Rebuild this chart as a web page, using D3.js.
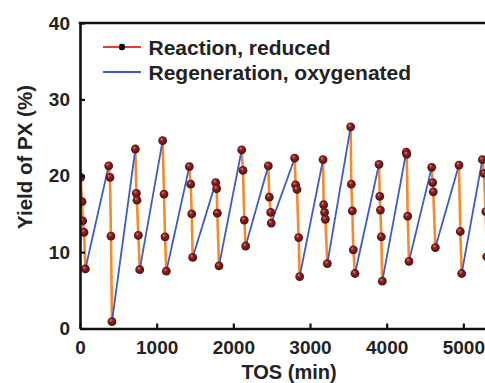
<!DOCTYPE html>
<html>
<head>
<meta charset="utf-8">
<script src="https://cdn.jsdelivr.net/npm/d3@7/dist/d3.min.js"></script>
<style>
  body { margin: 0; background: #fff; }
  svg { display: block; font-family: "Liberation Sans", Arial, sans-serif; }
</style>
</head>
<body>
<div id="chart"></div>
<script>
// reaction cycles: TOS (min) and PX yield (%) per cycle
const reactionTOS = [
  [9, 26, 35, 52, 70],
  [374, 391, 404, 417],
  [722, 735, 743, 761, 779],
  [1078, 1096, 1109, 1126],
  [1426, 1444, 1457, 1470],
  [1770, 1783, 1791, 1813],
  [2109, 2126, 2143, 2161],
  [2456, 2469, 2487, 2495],
  [2800, 2812, 2830, 2852, 2865],
  [3170, 3178, 3190, 3200, 3226],
  [3530, 3539, 3552, 3565, 3587],
  [3900, 3910, 3918, 3930, 3943],
  [4255, 4262, 4274, 4291],
  [4587, 4600, 4608, 4635],
  [4943, 4960, 4978],
  [5248, 5269, 5292, 5305]
];
const reactionYield = [
  [19.8, 16.6, 14.1, 12.6, 7.8],
  [21.3, 19.8, 12.1, 0.9],
  [23.5, 17.7, 16.8, 12.2, 7.7],
  [24.6, 17.6, 12.0, 7.5],
  [21.2, 18.9, 15.0, 9.3],
  [19.1, 18.3, 15.1, 8.2],
  [23.4, 20.7, 14.2, 10.8],
  [21.3, 17.2, 15.2, 13.8],
  [22.3, 18.8, 18.2, 11.9, 6.8],
  [22.1, 16.2, 15.2, 14.3, 8.5],
  [26.4, 18.9, 15.4, 10.3, 7.2],
  [21.5, 17.3, 15.5, 12.0, 6.2],
  [23.1, 22.8, 14.7, 8.8],
  [21.1, 19.1, 17.9, 10.6],
  [21.4, 12.7, 7.2],
  [22.1, 20.3, 15.3, 9.4]
];
const xTicks = [0, 1000, 2000, 3000, 4000, 5000];
const yTicks = [0, 10, 20, 30, 40];
const legendLabels = ["Reaction, reduced", "Regeneration, oxygenated"];

const W = 485, H = 383;
const margin = { top: 23, left: 80, bottom: 54.5 };

const svg = d3.select("#chart").append("svg")
  .attr("width", W).attr("height", H);

const x = d3.scaleLinear().domain([0, 5300]).range([margin.left, margin.left + 5300 * 0.07667]);
const y = d3.scaleLinear().domain([0, 40]).range([H - margin.bottom, margin.top]);

const defs = svg.append("defs");
const grad = defs.append("radialGradient").attr("id", "ball")
  .attr("cx", "50%").attr("cy", "50%").attr("r", "55%")
  .attr("fx", "35%").attr("fy", "30%");
grad.append("stop").attr("offset", "0%").attr("stop-color", "#d98a8a");
grad.append("stop").attr("offset", "35%").attr("stop-color", "#8e2424");
grad.append("stop").attr("offset", "100%").attr("stop-color", "#4d0a0a");

defs.append("clipPath").attr("id", "plot")
  .append("rect")
  .attr("x", margin.left).attr("y", margin.top - 6)
  .attr("width", W - margin.left).attr("height", y(0) - margin.top + 12);

const cycles = reactionTOS.map((ts, i) => ts.map((t, j) => [t, reactionYield[i][j]]));

const line = d3.line().x(d => x(d[0])).y(d => y(d[1]));
const plot = svg.append("g").attr("clip-path", "url(#plot)");

// regeneration: end of one reaction cycle to start of the next
const regen = cycles.slice(1).map((c, i) => [cycles[i][cycles[i].length - 1], c[0]]);

plot.selectAll(".react").data(cycles).enter().append("path")
  .attr("d", line).attr("fill", "none")
  .attr("stroke", "#f7892c").attr("stroke-width", 2.6);

plot.selectAll(".regen").data(regen).enter().append("path")
  .attr("d", line).attr("fill", "none")
  .attr("stroke", "#3b5cc4").attr("stroke-width", 1.8);

plot.selectAll(".pt").data(cycles.flat()).enter().append("circle")
  .attr("cx", d => x(d[0])).attr("cy", d => y(d[1]))
  .attr("r", 4.4).attr("fill", "url(#ball)");

// axes
const yAxis = svg.append("g")
  .attr("transform", `translate(${margin.left},0)`)
  .call(d3.axisLeft(y).tickValues(yTicks).tickSizeInner(-5).tickSizeOuter(0).tickPadding(10));
const xAxis = svg.append("g")
  .attr("transform", `translate(0,${y(0)})`)
  .call(d3.axisBottom(x).tickValues(xTicks).tickFormat(d3.format("d"))
    .tickSizeInner(-5).tickSizeOuter(0).tickPadding(12));

[xAxis, yAxis].forEach(g => {
  g.select(".domain").attr("stroke", "#111").attr("stroke-width", 2.6);
  g.selectAll(".tick line").attr("stroke", "#111").attr("stroke-width", 2.2);
  g.selectAll(".tick text")
    .attr("fill", "#222").style("font-size", "19px").style("font-weight", "bold")
    .style("font-family", '"Liberation Sans", Arial, sans-serif');
});

// top frame
svg.append("line")
  .attr("x1", margin.left - 1.3).attr("x2", W)
  .attr("y1", margin.top).attr("y2", margin.top)
  .attr("stroke", "#111").attr("stroke-width", 2.4);

// axis titles
svg.append("text")
  .attr("x", 289).attr("y", 379)
  .attr("text-anchor", "middle")
  .style("font-size", "20px").style("font-weight", "bold").attr("fill", "#222")
  .text("TOS (min)");
svg.append("text")
  .attr("transform", "translate(32,157) rotate(-90)")
  .attr("text-anchor", "middle")
  .style("font-size", "20.5px").style("font-weight", "bold").attr("fill", "#222")
  .text("Yield of PX (%)");

// legend
const legend = svg.append("g");
const lx0 = 103, lx1 = 141;
legend.append("line").attr("x1", lx0).attr("x2", lx1).attr("y1", 47).attr("y2", 47)
  .attr("stroke", "#ee3a2a").attr("stroke-width", 2);
legend.append("circle").attr("cx", (lx0 + lx1) / 2).attr("cy", 47).attr("r", 3.2).attr("fill", "#000");
legend.append("line").attr("x1", lx0).attr("x2", lx1).attr("y1", 72).attr("y2", 72)
  .attr("stroke", "#3b5cc4").attr("stroke-width", 2);
legend.selectAll("text").data(legendLabels).enter().append("text")
  .attr("x", 148.5).attr("y", (d, i) => 47 + i * 25)
  .attr("dy", "0.36em")
  .style("font-size", "21px").style("font-weight", "bold").attr("fill", "#222")
  .text(d => d);
</script>
</body>
</html>
